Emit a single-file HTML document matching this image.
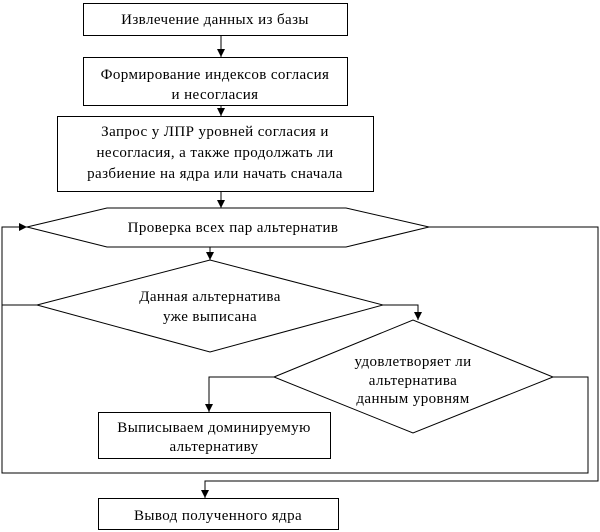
<html><body style="margin:0;background:#fff">
<svg width="600" height="532" xmlns="http://www.w3.org/2000/svg" style="font-family:'Liberation Serif',serif;font-size:15px;letter-spacing:0.4px">
<defs><marker id="r" markerWidth="8" markerHeight="8" refX="8" refY="4" orient="auto" markerUnits="userSpaceOnUse"><path d="M0,0 L8,4 L0,8 z" fill="#000"/></marker></defs>
<g fill="none" stroke="#000" stroke-width="1">
<rect x="83.5" y="3.5" width="264" height="32"/>
<rect x="83.5" y="57.5" width="264" height="48"/>
<rect x="57.5" y="116.5" width="316" height="75"/>
<polygon points="27,227 107,208 346,208 429,227 346,247 107,247"/>
<polygon points="37,305 210,260 383,305 210,352"/>
<polygon points="274,377 413,320 553,377 413,433"/>
<rect x="98.5" y="412.5" width="232" height="46"/>
<rect x="98.5" y="498.5" width="240" height="31"/>
<line x1="221" y1="36" x2="221" y2="57" marker-end="url(#r)"/>
<line x1="221" y1="106" x2="221" y2="116" marker-end="url(#r)"/>
<line x1="221" y1="192" x2="221" y2="208" marker-end="url(#r)"/>
<line x1="210" y1="247" x2="210" y2="260" marker-end="url(#r)"/>
<polyline points="383,305 418,305 418,320" marker-end="url(#r)"/>
<polyline points="274,377 209,377 209,412" marker-end="url(#r)"/>
<polyline points="553,377 588,377 588,473 2,473 2,227 27,227" marker-end="url(#r)"/>
<line x1="37" y1="305" x2="2" y2="305"/>
<polyline points="429,227 598,227 598,481 205,481 205,498" marker-end="url(#r)"/>
</g>
<g text-anchor="middle">
<text x="215" y="24">Извлечение данных из базы</text>
<text x="215" y="79">Формирование индексов согласия</text>
<text x="215" y="99">и несогласия</text>
<text x="215" y="136">Запрос у ЛПР уровней согласия и</text>
<text x="215" y="157">несогласия, а также продолжать ли</text>
<text x="215" y="178">разбиение на ядра или начать сначала</text>
<text x="233" y="232">Проверка всех пар альтернатив</text>
<text x="210" y="301">Данная альтернатива</text>
<text x="210" y="321">уже выписана</text>
<text x="413" y="366">удовлетворяет ли</text>
<text x="413" y="385">альтернатива</text>
<text x="413" y="403">данным уровням</text>
<text x="214" y="432">Выписываем доминируемую</text>
<text x="214" y="451">альтернативу</text>
<text x="218" y="520">Вывод полученного ядра</text>
</g>
</svg>
</body></html>
